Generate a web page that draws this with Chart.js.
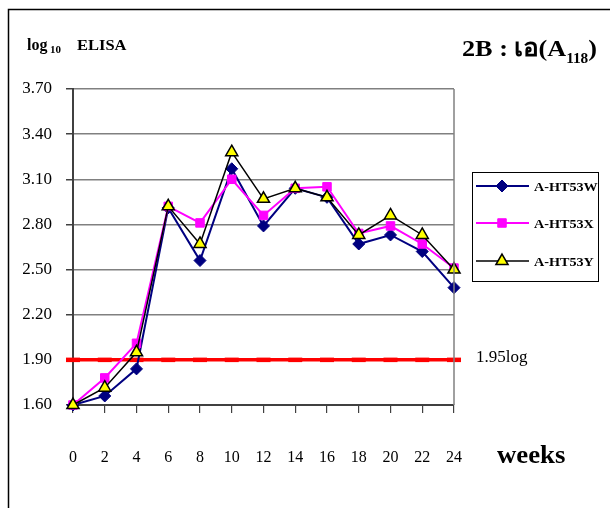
<!DOCTYPE html>
<html>
<head>
<meta charset="utf-8">
<script src="https://cdn.jsdelivr.net/npm/chart.js@4"></script>
<style>
  html, body { margin: 0; padding: 0; background: #fff; }
  #wrap { width: 610px; height: 508px; position: relative; }
</style>
</head>
<body>
<div id="wrap"><canvas id="c" width="610" height="508"></canvas></div>
<script>
// Sampling weeks
const weeks = ['0', '2', '4', '6', '8', '10', '12', '14', '16', '18', '20', '22', '24'];

// log10 ELISA titres per serum
const htW = [1.60, 1.66, 1.84, 2.91, 2.56, 3.17, 2.79, 3.04, 2.98, 2.67, 2.73, 2.62, 2.38];
const htX = [1.60, 1.78, 2.01, 2.92, 2.81, 3.10, 2.86, 3.04, 3.05, 2.74, 2.79, 2.67, 2.51];
const htY = [1.60, 1.715, 1.95, 2.92, 2.67, 3.28, 2.97, 3.04, 2.98, 2.73, 2.86, 2.73, 2.50];

// Cut-off level
const cutoff = [1.90, 1.90, 1.90, 1.90, 1.90, 1.90, 1.90, 1.90, 1.90, 1.90, 1.90, 1.90, 1.90];

// Value axis ticks
const yTicks = [1.60, 1.90, 2.20, 2.50, 2.80, 3.10, 3.40, 3.70];

const SERIF = "'Liberation Serif', 'Times New Roman', serif";

// Draw text stretched horizontally by factor sx; returns drawn width
function wideText(ctx, text, x, y, sx) {
  ctx.save();
  ctx.translate(x, y);
  ctx.scale(sx, 1);
  ctx.fillText(text, 0, 0);
  ctx.restore();
  return ctx.measureText(text).width * sx;
}

// Frame, texts and the legend box
const decor = {
  id: 'decor',
  beforeDraw(chart) {
    const ctx = chart.ctx;
    ctx.save();
    ctx.fillStyle = '#fff';
    ctx.fillRect(0, 0, chart.width, chart.height);
    ctx.strokeStyle = '#000';
    ctx.lineWidth = 1.5;
    ctx.beginPath();
    ctx.moveTo(8.5, chart.height);
    ctx.lineTo(8.5, 9.5);
    ctx.lineTo(chart.width, 9.5);
    ctx.stroke();
    ctx.restore();
  },
  afterDatasetsDraw(chart) {
    const ctx = chart.ctx;
    const a = chart.chartArea;
    ctx.save();
    // right border of the plot
    ctx.strokeStyle = '#808080';
    ctx.lineWidth = 1.5;
    ctx.beginPath();
    ctx.moveTo(a.right, a.top);
    ctx.lineTo(a.right, a.bottom);
    ctx.stroke();
    ctx.restore();
  },
  afterDraw(chart) {
    const ctx = chart.ctx;
    ctx.save();
    ctx.fillStyle = '#000';
    ctx.textBaseline = 'alphabetic';
    ctx.textAlign = 'left';

    // axis title
    ctx.font = 'bold 16px ' + SERIF;
    wideText(ctx, 'log', 27, 50, 1.0);
    ctx.font = 'bold 10px ' + SERIF;
    wideText(ctx, '10', 50, 53, 1.1);
    ctx.font = 'bold 15px ' + SERIF;
    wideText(ctx, 'ELISA', 77, 50, 1.1);

    // panel title, fitted between x = 462 and x = 597
    const big = 'bold 24px ' + SERIF, small = 'bold 14px ' + SERIF;
    ctx.font = big;
    const w1 = ctx.measureText('2B : เอ(A').width;
    const w3 = ctx.measureText(')').width;
    ctx.font = small;
    const w2 = ctx.measureText('118').width;
    const sx = 135 / (w1 + w2 + w3);
    let x = 462;
    ctx.font = big;
    x += wideText(ctx, '2B : เอ(A', x, 56, sx);
    ctx.font = small;
    x += wideText(ctx, '118', x, 63, sx);
    ctx.font = big;
    wideText(ctx, ')', x, 56, sx);

    // cut-off label
    ctx.font = '17px ' + SERIF;
    wideText(ctx, '1.95log', 476, 362, 1.0);

    // x unit
    ctx.font = 'bold 26px ' + SERIF;
    wideText(ctx, 'weeks', 497, 463, 1.03);

    // legend
    const lx = 472, ly = 172, lw = 126, lh = 109;
    ctx.strokeStyle = '#000';
    ctx.lineWidth = 1;
    ctx.strokeRect(lx + 0.5, ly + 0.5, lw, lh);
    const rows = [186, 223, 261];
    chart.data.datasets.filter(d => d.inLegend).forEach((d, i) => {
      const y = rows[i];
      ctx.strokeStyle = d.borderColor;
      ctx.lineWidth = d.borderWidth;
      ctx.beginPath();
      ctx.moveTo(476, y);
      ctx.lineTo(529, y);
      ctx.stroke();
      ctx.fillStyle = d.pointBackgroundColor;
      ctx.strokeStyle = d.pointBorderColor;
      ctx.lineWidth = d.pointBorderWidth;
      Chart.helpers.drawPoint(ctx, {
        pointStyle: d.pointStyle,
        radius: d.pointRadius,
        borderWidth: d.pointBorderWidth
      }, 502, y);
      ctx.fillStyle = '#000';
      ctx.font = 'bold 13px ' + SERIF;
      wideText(ctx, d.label, 534, y + 5, 1.09);
    });
    ctx.restore();
  }
};

new Chart(document.getElementById('c'), {
  type: 'line',
  data: {
    labels: weeks,
    datasets: [
      {
        label: 'cut-off', data: cutoff, inLegend: false, order: 4,
        borderColor: '#ff0000', borderWidth: 3.5,
        pointStyle: 'line', pointRadius: 7, pointBorderWidth: 4.5,
        pointBorderColor: '#ff0000', pointBackgroundColor: '#ff0000',
        tension: 0, clip: false
      },
      {
        label: 'A-HT53W', data: htW, inLegend: true, order: 3,
        borderColor: '#000080', borderWidth: 2,
        pointStyle: 'rectRot', pointRadius: 6, pointBorderWidth: 1,
        pointBorderColor: '#000080', pointBackgroundColor: '#000080',
        tension: 0, clip: false
      },
      {
        label: 'A-HT53X', data: htX, inLegend: true, order: 2,
        borderColor: '#ff00ff', borderWidth: 2,
        pointStyle: 'rect', pointRadius: 6, pointBorderWidth: 1,
        pointBorderColor: '#ff00ff', pointBackgroundColor: '#ff00ff',
        tension: 0, clip: false
      },
      {
        label: 'A-HT53Y', data: htY, inLegend: true, order: 1,
        borderColor: '#000000', borderWidth: 1.5,
        pointStyle: 'triangle', pointRadius: 7, pointBorderWidth: 1.5,
        pointBorderColor: '#000000', pointBackgroundColor: '#ffff00',
        tension: 0, clip: false
      }
    ]
  },
  options: {
    responsive: false,
    animation: false,
    layout: { padding: { top: 89, right: 156, left: 0, bottom: 0 } },
    plugins: { legend: { display: false }, tooltip: { enabled: false } },
    scales: {
      x: {
        offset: false,
        afterFit(s) { s.height = 103; },
        grid: {
          drawOnChartArea: false, drawTicks: true, tickLength: 8,
          color: '#404040', tickColor: '#404040', lineWidth: 1.2
        },
        border: { color: '#404040', width: 2 },
        ticks: {
          padding: 35, maxRotation: 0, autoSkip: false,
          color: '#000', font: { family: SERIF, size: 16 }
        }
      },
      y: {
        min: 1.6, max: 3.7,
        afterFit(s) { s.width = 73; },
        afterBuildTicks(s) { s.ticks = yTicks.map(v => ({ value: v })); },
        grid: {
          color: '#808080', lineWidth: 1.5, tickLength: 7,
          tickColor: '#404040'
        },
        border: { color: '#404040', width: 2 },
        ticks: {
          padding: 14, color: '#000',
          font: { family: SERIF, size: 17 },
          callback: v => Number(v).toFixed(2)
        }
      }
    }
  },
  plugins: [decor]
});
</script>
</body>
</html>
